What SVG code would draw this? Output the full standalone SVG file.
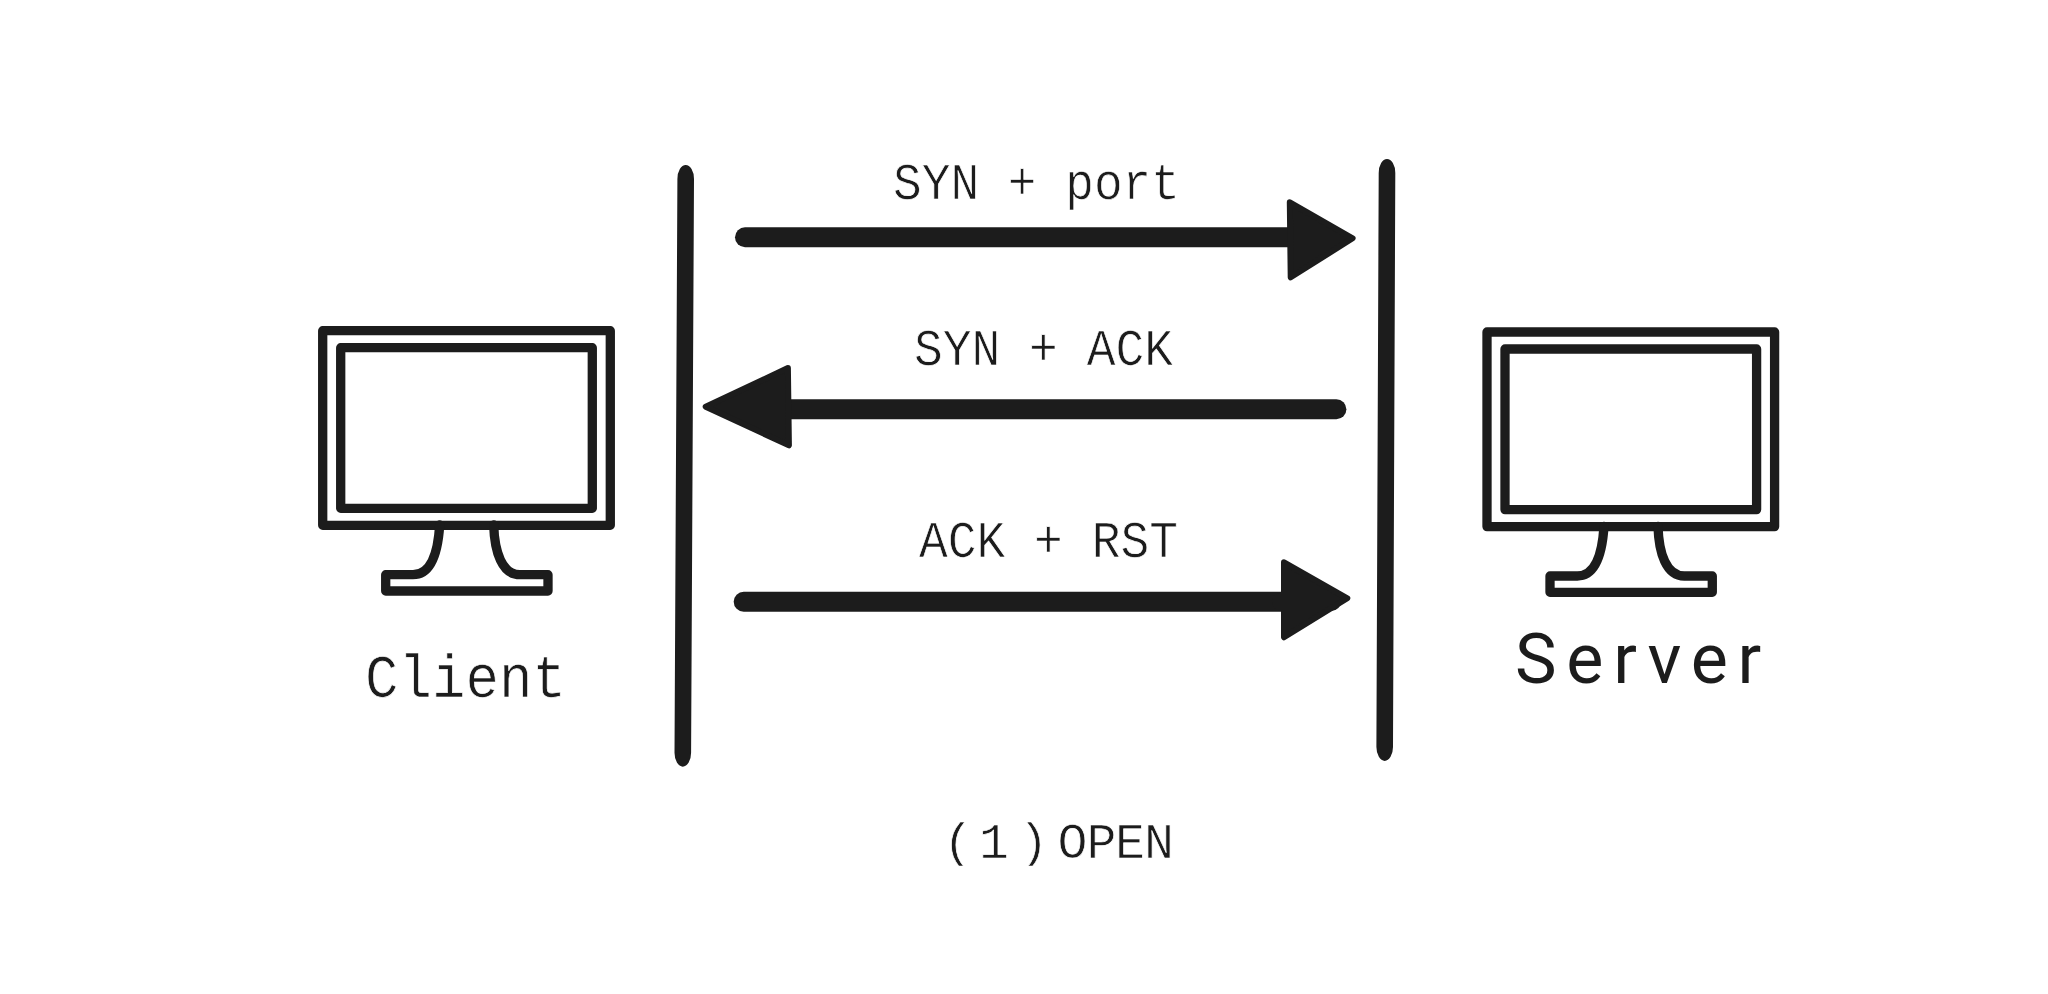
<svg xmlns="http://www.w3.org/2000/svg" width="2048" height="994" viewBox="0 0 2048 994">
<style>
.line{fill:none;stroke:#1c1c1c;stroke-linecap:round;stroke-linejoin:round}
.wall{fill:#1c1c1c}
.shaft{stroke-width:20}
.ico{fill:none;stroke:#1c1c1c;stroke-width:9.3;stroke-linejoin:round;stroke-linecap:round}
.head{fill:#1c1c1c;stroke:#1c1c1c;stroke-width:6;stroke-linejoin:round}
text{font-family:"Liberation Mono",monospace;fill:#1c1c1c;font-size:52px;stroke:#fff;stroke-width:.7px}
</style>
<defs>
<clipPath id="capClip"><rect x="900" y="800" width="300" height="65.7"/></clipPath>
<g id="monitor">
<rect class="ico" x="322.7" y="330.7" width="287.6" height="194.6"/>
<rect class="ico" x="340.7" y="347.7" width="251.6" height="160.6"/>
<path class="ico" d="M439.7 525C438 552 431 574.7 413 574.7H385.7V591H548V574.7H520C502 574.7 494.5 552 493.7 525"/>
</g>
</defs>
<rect width="2048" height="994" fill="#fff"/>
<g id="client"><use href="#monitor"/><text x="365" y="697" style="font-size:61px" textLength="201" lengthAdjust="spacingAndGlyphs">Client</text></g>
<g id="server"><use href="#monitor" x="1164.3" y="1.3"/><text x="1515" y="682.5" style="font-family:Roboto,sans-serif;font-weight:400;font-size:70px;letter-spacing:9.8px;stroke:none">Server</text></g>
<g id="connectors">
<path class="wall" d="M677.4 179A8.3 14 0 0 1 694 179L691.1 752.7A8.3 14 0 0 1 674.5 752.7Z"/>
<path class="wall" d="M1378.7 173A8.3 14 0 0 1 1395.3 173L1393 747A8.3 14 0 0 1 1376.4 747Z"/>
<path class="line shaft" d="M745 237.3H1290"/>
<path class="head" d="M1289.8 202.3L1352.6 238.3L1290.7 277.3Z"/>
<path class="line shaft" d="M1336.4 409.3H790"/>
<path class="head" d="M787.9 368L705.7 406.7L788.9 445.3Z"/>
<path class="line shaft" d="M743.7 601.7H1285"/>
<path class="line" style="stroke-width:18" d="M1281 601.7H1332"/>
<path class="head" d="M1284 562.3L1347.3 598.3L1284 637.3Z"/>
</g>
<g id="labels">
<text x="893" y="199" textLength="287" lengthAdjust="spacingAndGlyphs">SYN + port</text>
<text x="914" y="365" textLength="259" lengthAdjust="spacingAndGlyphs">SYN + ACK</text>
<text x="919" y="557.3" textLength="259" lengthAdjust="spacingAndGlyphs">ACK + RST</text>
<g clip-path="url(#capClip)"><text x="943 965 979 1003 1018.5 1042 1057.5 1086.5 1115 1144" y="858" style="font-size:50px">( 1 ) OPEN</text></g>
</g>
</svg>
